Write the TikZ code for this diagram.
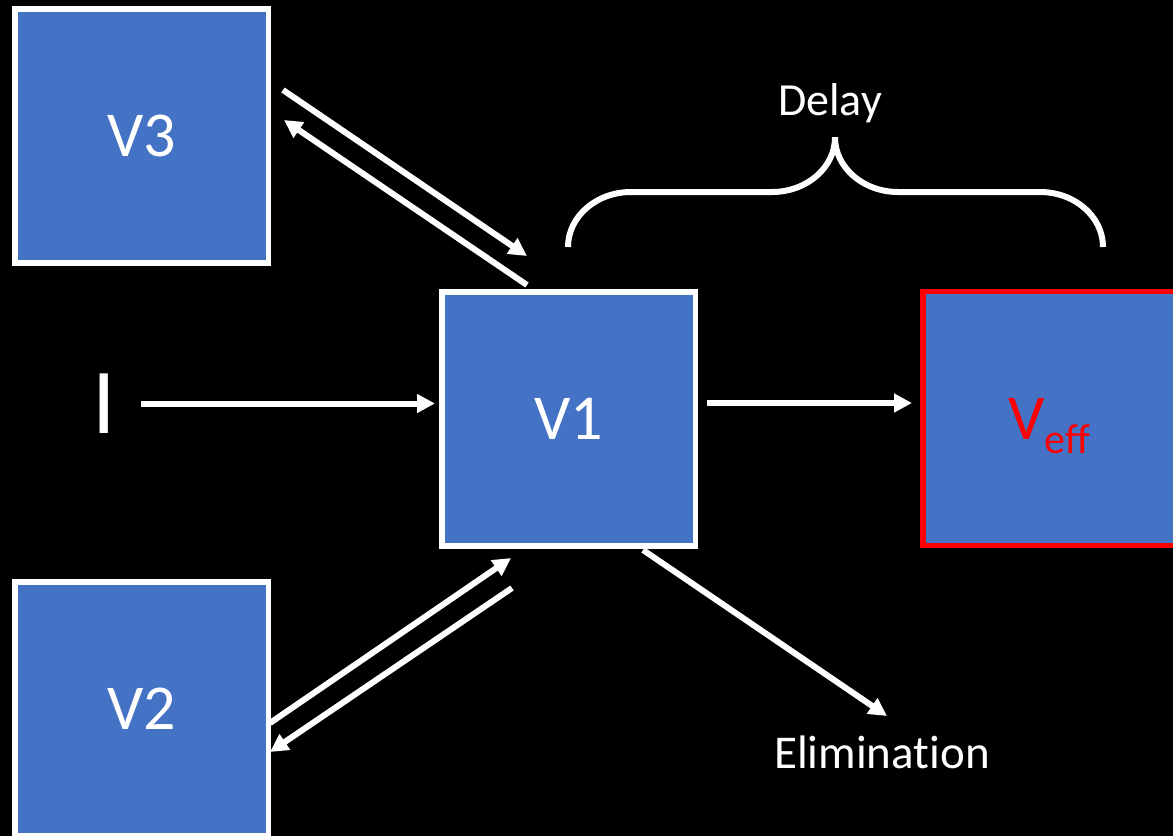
\documentclass[tikz,border=0pt]{standalone}
\usepackage{fontspec}
\setmainfont{Carlito}[Ligatures=NoCommon]
\usetikzlibrary{arrows.meta}
\definecolor{boxblue}{HTML}{4472C4}
\definecolor{effred}{HTML}{FF0000}
\tikzset{
  compartment/.style={draw=white, fill=boxblue, line width=5.5pt,
    minimum width=253.5pt, minimum height=254pt, inner sep=0pt,
    text=white, font=\fontsize{64}{64}\selectfont},
  effect/.style={compartment, draw=effred, text=effred},
  arr/.style={draw=white, line width=6pt,
    -{Triangle[length=18pt,width=18pt]}},
  lbl/.style={text=white, inner sep=0pt},
  bracepath/.style={draw=white, line width=6pt}
}
\begin{document}
\begin{tikzpicture}[x=1pt,y=-1pt]
  % canvas
  \fill[black] (0,0) rectangle (1173,836);
  \useasboundingbox (0,0) rectangle (1173,836);

  % compartments
  \node[compartment] (V3) at (141.5,136) {V3};
  \node[compartment] (V1) at (568.5,419) {V1};
  \node[compartment] (V2) at (141.5,709) {V2};
  \node[effect] (Veff) at (1049.5,418.5)
    {V\smash{\raisebox{-14pt}{\fontsize{42}{42}\selectfont eff}}};

  % input
  \node[lbl, font=\fontsize{93}{93}\selectfont] (I) at (104.5,403.5) {I};

  % labels
  \node[lbl, anchor=base, font=\fontsize{46}{46}\selectfont] (delay) at (830,115) {Delay};
  \node[lbl, anchor=base, font=\fontsize{47}{47}\selectfont] (elim) at (882,768) {Eliminat\kern0pt ion};

  % free ends of the exchange arrows
  \coordinate (p1) at (283,90);  \coordinate (p2) at (527,256);
  \coordinate (p3) at (527,285); \coordinate (p4) at (284,120);
  \coordinate (q1) at (270,723); \coordinate (q2) at (511,558);
  \coordinate (q3) at (512,588); \coordinate (q4) at (270,752);
  \coordinate (e1) at (643,550); \coordinate (e2) at (887,716);

  % dosing and effect-site transfer
  \draw[arr, shorten <=25pt, shorten >=4pt] (I.east) -- (I.east -| V1.west);
  \draw[arr, shorten <=9pt, shorten >=8pt]
    ([yshift=16pt]V1.east) -- ([yshift=16pt]V1.east -| Veff.west);

  % V1 <-> V3
  \draw[arr] (p1) -- (p2);
  \draw[arr] (p3) -- (p4);
  % V1 <-> V2
  \draw[arr] (q1) -- (q2);
  \draw[arr] (q3) -- (q4);
  % elimination
  \draw[arr] (e1) -- (e2);

  % delay brace
  \draw[bracepath] (835,137) -- (835,137.5)
    .. controls (835,167.4) and (806.8,192) .. (772,192)
    -- (631,192)
    .. controls (596.2,192) and (568,216.6) .. (568,247);
  \draw[bracepath] (835,137) -- (835,137.5)
    .. controls (835,167.4) and (863.2,192) .. (898,192)
    -- (1040,192)
    .. controls (1074.8,192) and (1103,216.6) .. (1103,247);
\end{tikzpicture}
\end{document}
